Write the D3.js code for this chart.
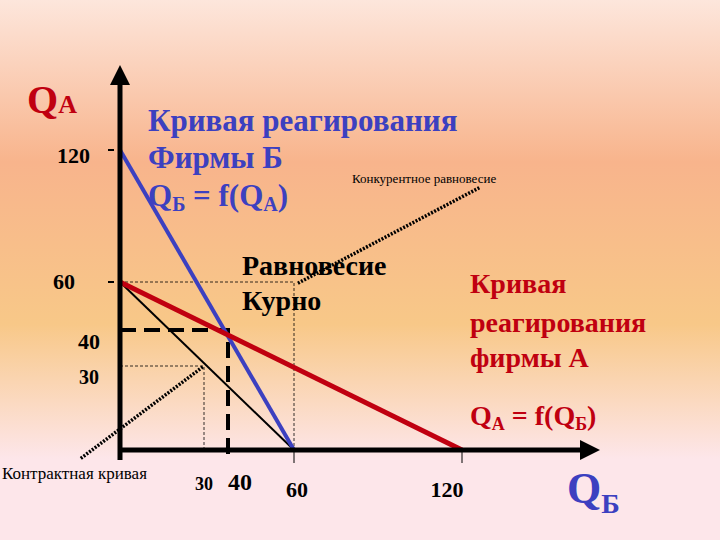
<!DOCTYPE html>
<html><head><meta charset="utf-8">
<script src="https://cdn.jsdelivr.net/npm/d3@7"></script>
<style>body{margin:0}svg{display:block}text{font-family:'Liberation Serif','Times New Roman','DejaVu Serif',serif}</style></head>
<body><svg id="c" width="720" height="540"></svg>
<script>
const tickValues = [30, 40, 60, 120];
const redCurve = [[0, 60], [120, 0]];      // реакция фирмы А
const blueCurve = [[0, 120], [60, 0]];     // реакция фирмы Б
const contractCurve = [[0, 60], [60, 0]];
const cournot = [40, 40];
const contractPoint = [30, 30];
const competitive = [60, 60];
const contractDots = [[-14, -3], [30, 30]];
const competitiveDots = [[61.4, 59.5], [126.4, 103]];

const svg = d3.select("#c");
const defs = svg.append("defs");
const g = defs.append("linearGradient").attr("id","bg").attr("x1",0).attr("y1",0).attr("x2",0).attr("y2",1);
[[0,"#fde6dc"],[0.3,"#f8b48c"],[0.6,"#f8c888"],[0.85,"#fde6ea"],[1,"#fde6ea"]].forEach(([o,c])=>g.append("stop").attr("offset",o).attr("stop-color",c));
svg.append("rect").attr("width",720).attr("height",540).attr("fill","url(#bg)");

const x = d3.scaleLinear().domain([0,30,40,60,120]).range([120,204,228,294,462]);
const y = d3.scaleLinear().domain([0,30,40,60,120]).range([450,366,330,282,150]);
const line = d3.line().x(d=>x(d[0])).y(d=>y(d[1]));

const thin = (pts)=>svg.append("path").attr("d",line(pts)).attr("fill","none").attr("stroke","#000").attr("stroke-width",0.8).attr("stroke-dasharray","3,2");
thin([[0,competitive[1]],[competitive[0],competitive[1]],[competitive[0],0]]);
thin([[0,contractPoint[1]],[contractPoint[0],contractPoint[1]],[contractPoint[0],0]]);

[contractDots, competitiveDots].forEach(p=>svg.append("path").attr("d",line(p)).attr("fill","none").attr("stroke","#000").attr("stroke-width",3.5).attr("stroke-dasharray","2,1.5"));

svg.append("path").attr("d",line([[0,cournot[1]],[cournot[0],cournot[1]],[cournot[0],-2]])).attr("fill","none").attr("stroke","#000").attr("stroke-width",4).attr("stroke-dasharray","16,8");

svg.append("path").attr("d",line(contractCurve)).attr("stroke","#000").attr("stroke-width",2).attr("fill","none");
svg.append("path").attr("d",line(blueCurve)).attr("stroke","#3c40c0").attr("stroke-width",4).attr("fill","none");
svg.append("path").attr("d",line(redCurve)).attr("stroke","#c00010").attr("stroke-width",5).attr("fill","none");

defs.append("marker").attr("id","ar").attr("viewBox","0 0 10 10").attr("refX",5).attr("refY",5).attr("markerWidth",4).attr("markerHeight",4).attr("orient","auto")
 .append("path").attr("d","M0,0L10,5L0,10z").attr("fill","#000");
svg.append("line").attr("x1",x(0)).attr("y1",460).attr("x2",x(0)).attr("y2",75).attr("stroke","#000").attr("stroke-width",5).attr("marker-end","url(#ar)");
svg.append("line").attr("x1",x(0)-2).attr("y1",y(0)).attr("x2",590).attr("y2",y(0)).attr("stroke","#000").attr("stroke-width",5).attr("marker-end","url(#ar)");
[60,120].forEach(v=>svg.append("line").attr("x1",x(v)).attr("x2",x(v)).attr("y1",y(0)).attr("y2",y(0)+13).attr("stroke","#000"));
[60,120].forEach(v=>svg.append("line").attr("x1",x(0)-12).attr("x2",x(0)-6).attr("y1",y(v)).attr("y2",y(v)).attr("stroke","#000").attr("stroke-width",2));

const T = (t,xx,yy,size,fill,opts={})=>{const e=svg.append("text").attr("x",xx).attr("y",yy).attr("font-size",size).attr("fill",fill).attr("font-weight",opts.w||"bold").attr("text-anchor",opts.a||"start");e.text(t);return e;};
T("120",90,163,22,"#000",{a:"end"});
T("60",75,289,22,"#000",{a:"end"});
T("40",100,349,22,"#000",{a:"end"});
T("30",99,384,20,"#000",{a:"end"});
T("30",204,490,18,"#000",{a:"middle"});
T("40",240,490,24,"#000",{a:"middle"});
T("60",297,497,22,"#000",{a:"middle"});
T("120",447,497,22,"#000",{a:"middle"});

const qa=T("Q",27,113,40,"#c00010"); qa.append("tspan").attr("font-size",26).text("A");
const qb=T("Q",567,503,44,"#3c40c0"); qb.append("tspan").attr("font-size",28).attr("dy",10).text("Б");

T("Кривая реагирования",148,131,31,"#3c40c0");
T("Фирмы Б",148,168,31,"#3c40c0");
const b3=T("Q",148,206,31,"#3c40c0"); b3.append("tspan").attr("font-size",20).attr("dy",5).text("Б"); b3.append("tspan").attr("dy",-5).text(" = f(Q"); b3.append("tspan").attr("font-size",20).attr("dy",5).text("A"); b3.append("tspan").attr("dy",-5).text(")");
T("Конкурентное равновесие",352,183,13,"#000",{w:"normal"});

T("Равновесие",242,275,28,"#000");
T("Курно",242,310,28,"#000");

T("Кривая",470,293,28,"#c00010");
T("реагирования",470,332,28,"#c00010");
T("фирмы А",470,367,28,"#c00010");
const r4=T("Q",470,425,28,"#c00010"); r4.append("tspan").attr("font-size",18).attr("dy",5).text("A"); r4.append("tspan").attr("dy",-5).text(" = f(Q"); r4.append("tspan").attr("font-size",18).attr("dy",5).text("Б"); r4.append("tspan").attr("dy",-5).text(")");

T("Контрактная кривая",2,479,17,"#000",{w:"normal"});
</script></body></html>
